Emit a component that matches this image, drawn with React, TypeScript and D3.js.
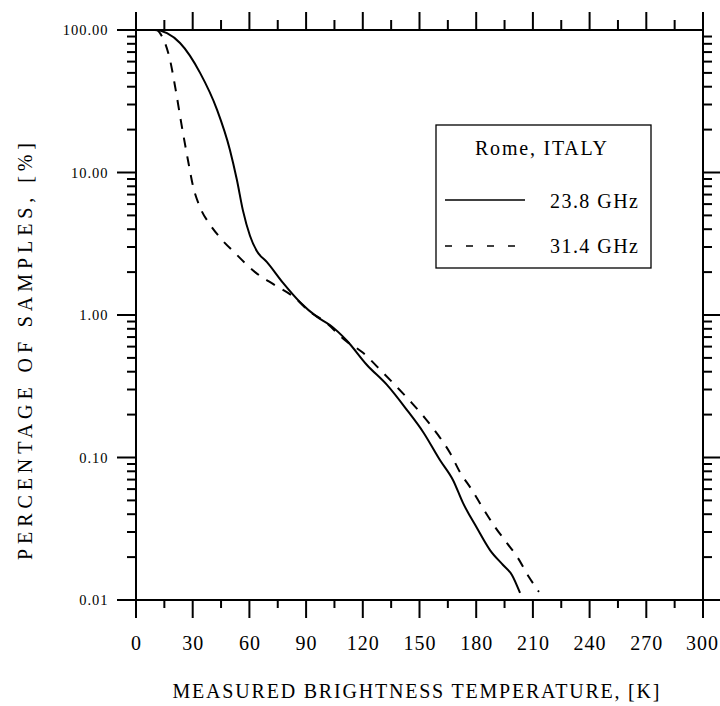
import React from "react";
import * as d3 from "d3";

const solidT = [0, 10, 16.4, 23.3, 33.9, 42.9, 49.7, 53.4, 56.6, 60.3, 64, 69.3, 77.8, 86.8, 95.8, 102.6, 111.6, 122.2, 132.8, 143.4, 151.9, 160.8, 167.7, 173, 180.4, 187.3, 194.2, 198.9, 203.2];
const solidV = [100, 100, 95, 81, 50, 27.5, 14.4, 8.85, 5.4, 3.6, 2.8, 2.35, 1.68, 1.23, 0.97, 0.85, 0.66, 0.446, 0.323, 0.215, 0.151, 0.096, 0.0695, 0.048, 0.032, 0.0224, 0.0176, 0.015, 0.0112];

const dashT = [0, 11, 12.7, 18, 21, 24, 27.5, 30.2, 33.9, 39.2, 44.4, 52.4, 63, 73.5, 84.1, 92.1, 98.9, 111.6, 119.6, 130.2, 138.1, 146, 152.9, 159.8, 166.1, 171.4, 177.8, 183.6, 190, 196.3, 202.1, 207.9, 213.2];
const dashV = [100, 100, 95, 61.6, 38, 22, 12.2, 8.0, 5.7, 4.3, 3.5, 2.72, 2.0, 1.62, 1.32, 1.05, 0.92, 0.65, 0.55, 0.4, 0.312, 0.241, 0.189, 0.144, 0.108, 0.079, 0.059, 0.044, 0.0325, 0.0251, 0.0197, 0.0145, 0.0114];

const xMajorTicks = [0, 30, 60, 90, 120, 150, 180, 210, 240, 270, 300];
const xMinorTicks = [15, 45, 75, 105, 135, 165, 195, 225, 255, 285];
const yMajorTicks = [100, 10, 1, 0.1, 0.01];
const yTickLabels = ["100.00", "10.00", "1.00", "0.10", "0.01"];

const legendTitle = "Rome, ITALY";
const seriesNames = ["23.8 GHz", "31.4 GHz"];
const xTitle = "MEASURED BRIGHTNESS TEMPERATURE, [K]";
const yTitle = "PERCENTAGE OF SAMPLES, [%]";

const FONT = '"Liberation Serif", "Times New Roman", "DejaVu Serif", "Noto Serif", serif';

export default function App() {
  const x = d3.scaleLinear().domain([0, 300]).range([136, 703]);
  const y = d3.scaleLog().domain([0.01, 100]).range([600, 30]);
  const x0 = x.range()[0], x1 = x.range()[1];
  const yTop = y.range()[1], yBot = y.range()[0];

  const yMinor = y.ticks().filter((v) => !yMajorTicks.some((m) => Math.abs(m - v) / m < 1e-6));

  const line = d3
    .line<[number, number]>()
    .x((d) => x(d[0]))
    .y((d) => y(d[1]))
    .curve(d3.curveMonotoneX);

  const solidData: [number, number][] = solidT.map((t, i) => [t, solidV[i]]);
  const dashData: [number, number][] = dashT.map((t, i) => [t, dashV[i]]);

  const sw = 2;
  const txt = { fontFamily: FONT, fill: "#000" } as React.CSSProperties;
  return (
    <svg
      width={720}
      height={706}
      style={{ position: "absolute", left: 0, top: 0, display: "block", background: "#fff" }}
    >
      <rect x={0} y={0} width={720} height={706} fill="#fff" />
      {/* curves */}
      <path d={line(solidData) || ""} fill="none" stroke="#000" strokeWidth={2} />
      <path d={line(dashData) || ""} fill="none" stroke="#000" strokeWidth={2} strokeDasharray="10,9" />

      {/* frame */}
      <line x1={x0} x2={x0} y1={yTop} y2={yBot} stroke="#000" strokeWidth={sw} />
      <line x1={x1} x2={x1} y1={yTop} y2={yBot} stroke="#000" strokeWidth={sw} />
      <line x1={x0} x2={x1} y1={yTop} y2={yTop} stroke="#000" strokeWidth={sw} />
      <line x1={x0} x2={720} y1={yBot} y2={yBot} stroke="#000" strokeWidth={sw} />

      {/* x ticks */}
      {xMajorTicks.map((t, i) => (
        <g key={"xm" + t}>
          <line x1={x(t)} x2={x(t)} y1={yBot} y2={yBot + 18} stroke="#000" strokeWidth={sw} />
          <line x1={x(t)} x2={x(t)} y1={yTop} y2={yTop - 18} stroke="#000" strokeWidth={sw} />
          <text
            x={i === xMajorTicks.length - 1 ? 719 : x(t) + 0.5}
            y={650}
            fontSize={20}
            letterSpacing={1}
            textAnchor={i === xMajorTicks.length - 1 ? "end" : "middle"}
            style={txt}
          >
            {String(t)}
          </text>
        </g>
      ))}
      {xMinorTicks.map((t) => (
        <g key={"xn" + t}>
          <line x1={x(t)} x2={x(t)} y1={yBot} y2={yBot + 8} stroke="#000" strokeWidth={sw} />
          <line x1={x(t)} x2={x(t)} y1={yTop} y2={yTop - 10} stroke="#000" strokeWidth={sw} />
        </g>
      ))}

      {/* y ticks */}
      {yMajorTicks.map((v, i) => (
        <g key={"ym" + v}>
          <line x1={x0} x2={x0 - 19} y1={y(v)} y2={y(v)} stroke="#000" strokeWidth={sw} />
          {v !== 100 && (
            <line x1={x1} x2={x1 + 17} y1={y(v)} y2={y(v)} stroke="#000" strokeWidth={sw} />
          )}
          <text x={108.5} y={y(v) + 5} fontSize={14.5} letterSpacing={1} textAnchor="end" style={txt}>
            {yTickLabels[i]}
          </text>
        </g>
      ))}
      {yMinor.map((v) => (
        <g key={"yn" + v}>
          <line x1={x0} x2={x0 - 9} y1={y(v)} y2={y(v)} stroke="#000" strokeWidth={sw} />
          <line x1={x1} x2={x1 + 9} y1={y(v)} y2={y(v)} stroke="#000" strokeWidth={sw} />
        </g>
      ))}

      {/* axis titles */}
      <text x={416} y={698} fontSize={20} textAnchor="middle" textLength={487} lengthAdjust="spacing" style={txt}>
        {xTitle}
      </text>
      <text
        transform="translate(32,351.5) rotate(-90)"
        fontSize={20}
        textAnchor="middle"
        textLength={417}
        lengthAdjust="spacing"
        style={txt}
      >
        {yTitle}
      </text>

      {/* legend */}
      <rect x={436} y={125} width={215} height={143} fill="#fff" stroke="#000" strokeWidth={1.3} />
      <text x={475} y={155} fontSize={20} textLength={132} lengthAdjust="spacing" style={txt}>
        {legendTitle}
      </text>
      <line x1={445} x2={525} y1={200} y2={200} stroke="#000" strokeWidth={1.6} />
      <text x={550} y={208} fontSize={20} textLength={88} lengthAdjust="spacing" style={txt}>
        {seriesNames[0]}
      </text>
      <line x1={445} x2={519} y1={246} y2={246} stroke="#000" strokeWidth={1.6} strokeDasharray="7,14" />
      <text x={550} y={253} fontSize={20} textLength={88} lengthAdjust="spacing" style={txt}>
        {seriesNames[1]}
      </text>
    </svg>
  );
}
